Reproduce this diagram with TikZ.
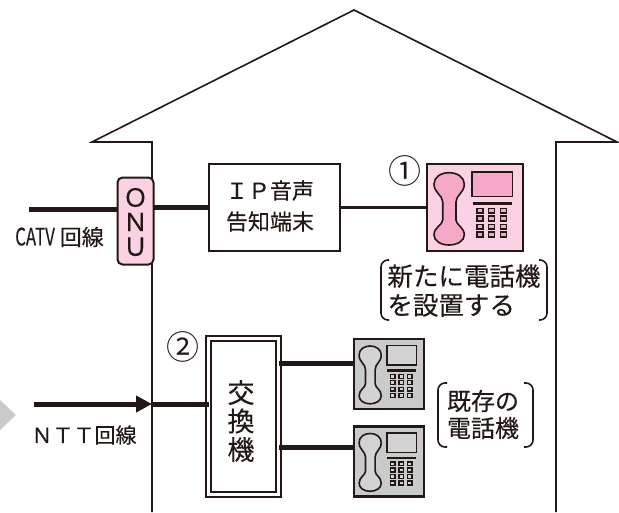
\documentclass[tikz,border=0pt]{standalone}
\usepackage{graphicx}
\usepackage{fontspec}
\setmainfont{Noto Sans CJK JP}[FakeBold=0.25]
\newfontfamily\thinfont{Noto Sans CJK JP}
\usetikzlibrary{arrows.meta}
\definecolor{ink}{HTML}{231815}
\definecolor{pinklight}{HTML}{FAD2E3}
\definecolor{pinkdark}{HTML}{F5A8C8}
\definecolor{graylight}{HTML}{C9CACA}
\definecolor{graydark}{HTML}{D3D3D4}
\tikzstyle{wall}=[
    draw = ink,
    line width = 1.6pt
]
\tikzstyle{cable}=[
    draw = ink,
    line width = 5pt
]
\tikzstyle{plain box}=[
    draw = ink,
    line width = 2pt,
    fill = white,
    rectangle,
    outer sep = 0pt,
    inner sep = 0pt
]
\tikzstyle{phone box}=[
    plain box,
    line width = 2.2pt,
    minimum width = 96pt,
    minimum height = 87pt
]
\tikzstyle{bracket}=[
    draw = ink,
    line width = 1.6pt,
    rounded corners = 7pt
]
\tikzstyle{caption}=[
    text = ink,
    inner sep = 0pt,
    align = center
]
% handset, screen and keys, drawn in the box of a pink phone (96 x 87)
\newcommand{\phonedetail}[4]{
    \begin{scope}[shift = {(#1.north west)}, x = #2pt, y = -#3pt, draw = ink, line width = 1.6pt]
        \filldraw[fill = #4] (15.7,38) .. controls (15.7,31) and (7,29) .. (7,20)
            .. controls (7,13) and (14,8.7) .. (22,8.7)
            .. controls (30,8.7) and (37.3,13) .. (37.3,20)
            .. controls (37.3,29) and (29,31) .. (29,38) -- (29,56)
            .. controls (29,61) and (37.3,63) .. (37.3,71)
            .. controls (37.3,77) and (30,81) .. (22,81)
            .. controls (14,81) and (7,77) .. (7,71)
            .. controls (7,63) and (15.7,61) .. (15.7,56) -- cycle;
        \filldraw[fill = #4] (45,8) rectangle (85.5,32.5);
        \fill[ink] (45.5,37.5) rectangle (85,41);
        \foreach \kx in {53,64.7,76.3}
            \foreach \ky in {46.7,54.5,62.7,70.5}
                \filldraw[fill = #4, line width = 1.4pt] (\kx-3,\ky-2.4) rectangle (\kx+3,\ky+2.4);
    \end{scope}
}

\begin{document}
\begin{tikzpicture}[x = 1pt, y = -1pt]
    \useasboundingbox (0,0) rectangle (619,512);

    % house
    \draw[wall] (152,512) -- (152,142) -- (92,142) -- (354,10) -- (617,142) -- (556,142) -- (556,512);
    \fill[graylight] (0,400) -- (16,415) -- (0,430) -- cycle;

    % boxes
    \node[plain box, fill = pinklight, rounded corners = 5pt, minimum width = 36pt, minimum height = 87pt] (onu) at (135.5,221) {};
    \node[caption, font = \fontsize{25}{24.5}\selectfont] (onutext) at (135.5,222) {Ｏ\\Ｎ\\Ｕ};
    \node[plain box, minimum width = 131pt, minimum height = 87pt] (ipbox) at (274.5,207.5) {};
    \node[caption, font = \fontsize{22}{31}\selectfont] (iptext) at (270,206) {ＩＰ音声\\告知端末};
    \node[phone box, fill = pinklight] (pinktel) at (475,207.5) {};
    \node[plain box, double, line width = 2pt, double distance = 3pt, minimum width = 70.3pt, minimum height = 155.7pt] (exch) at (243.8,416.2) {};
    \node[caption, font = \fontsize{27}{28.5}\selectfont] (exchtext) at (241,421) {交\\換\\機};
    \node[phone box, fill = graylight, minimum width = 70pt, minimum height = 70pt] (tela) at (389,374) {};
    \node[phone box, fill = graylight, minimum width = 70pt, minimum height = 70pt] (telb) at (389,461.5) {};
    \phonedetail{pinktel}{1}{1}{pinkdark}
    \phonedetail{tela}{0.73}{0.8}{graydark}
    \phonedetail{telb}{0.73}{0.8}{graydark}

    % lines
    \coordinate (catv) at (29,209);
    \coordinate (ntt) at (34,404);
    \coordinate (entry) at (152,404);
    \draw[cable] (catv) -- (catv -| onu.west);
    \draw[cable] (onu.east |- ipbox.west) -- (ipbox.west);
    \draw[line width = 3.5pt, draw = ink] (ipbox.east) -- (pinktel.west);
    \draw[cable, -{Triangle[length = 16pt, width = 16pt]}] (ntt) -- (entry);
    \draw[cable] (entry) -- (entry -| exch.west);
    \draw[cable] ([yshift = 11pt]tela.west) -- ([yshift = 11pt]tela.west -| exch.east);
    \draw[cable] ([yshift = 14pt]telb.west) -- ([yshift = 14pt]telb.west -| exch.east);

    % labels
    \node[caption, font = \fontsize{22}{25}\selectfont] (catvtext) at (59.5,237) {{\fontsize{24}{25}\selectfont\scalebox{0.7}[1]{CATV}} 回線};
    \node[caption, font = \fontsize{21}{25}\selectfont] (ntttext) at (84,435) {ＮＴＴ回線};
    \node[caption, font = \thinfont\fontsize{33}{35}\selectfont] (no1) at (405,171) {①};
    \node[caption, font = \thinfont\fontsize{33}{35}\selectfont] (no2) at (183,347) {②};
    \node[caption, align = left, font = \fontsize{25.5}{29}\selectfont] (newtext) at (464,290.5) {新たに電話機\\を設置する};
    \node[caption, font = \fontsize{24}{27}\selectfont] (oldtext) at (483,414.5) {既存の\\電話機};

    % brackets
    \draw[bracket] (389,260) -- (381,260) -- (381,320) -- (389,320);
    \draw[bracket] (539,260) -- (547,260) -- (547,320) -- (539,320);
    \draw[bracket] (447,383) -- (438,383) -- (438,447) -- (447,447);
    \draw[bracket] (524,383) -- (533,383) -- (533,447) -- (524,447);
\end{tikzpicture}
\end{document}
